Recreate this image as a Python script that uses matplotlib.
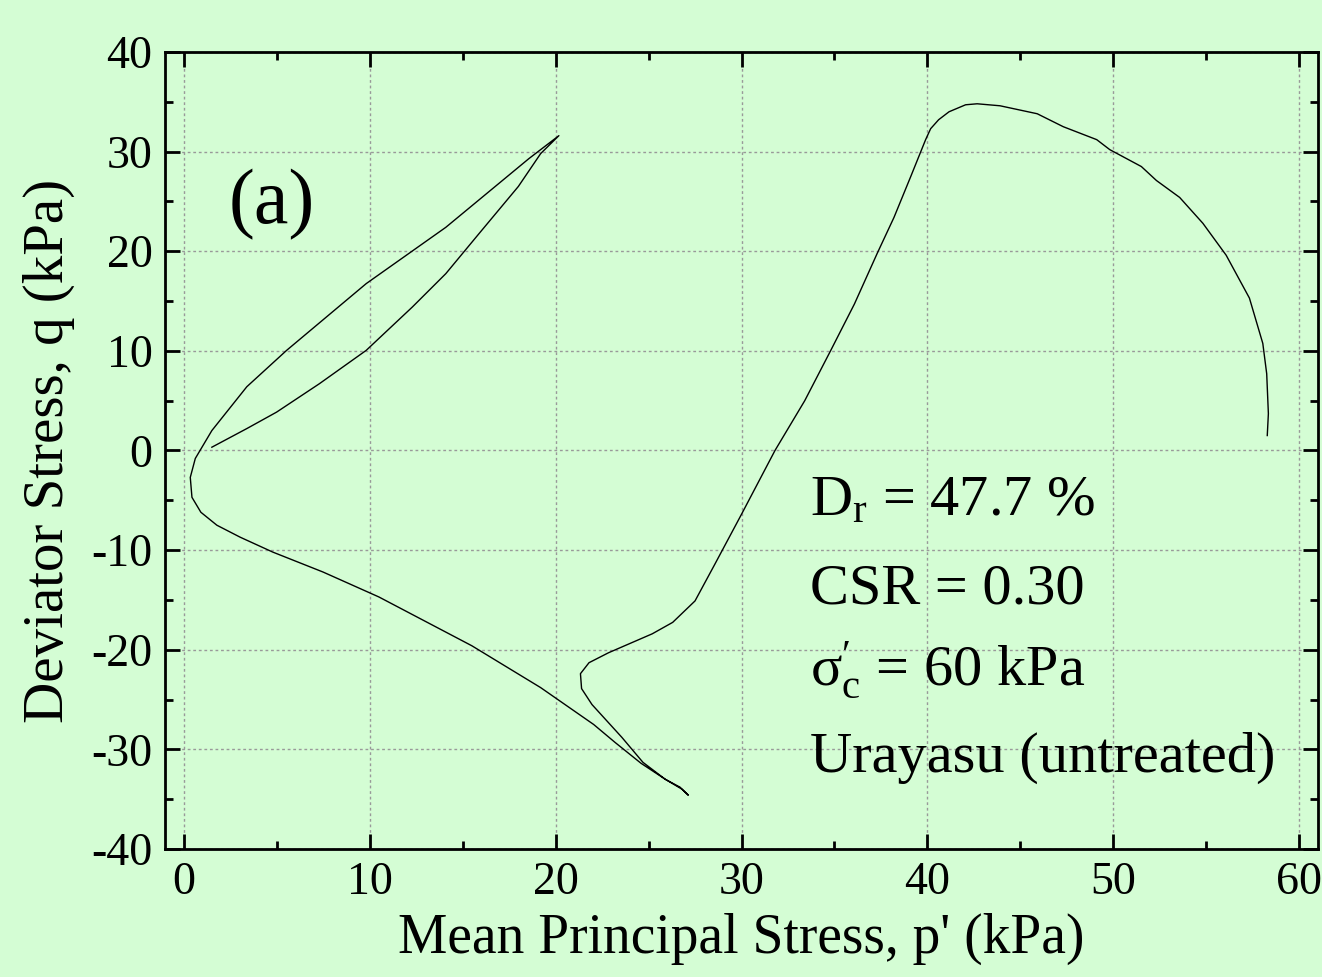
import numpy as np
import matplotlib
matplotlib.use("Agg")
import matplotlib.pyplot as plt

plt.rcParams['font.family'] = ['Liberation Serif', 'DejaVu Serif']
plt.rcParams['mathtext.fontset'] = 'custom'
plt.rcParams['mathtext.rm'] = 'Liberation Serif'
plt.rcParams['mathtext.it'] = 'Liberation Serif:italic'
plt.rcParams['axes.unicode_minus'] = False

# stress path (p', q) in kPa
p_path = [58.27, 58.33, 58.24, 58.03, 57.31, 56.06, 54.81, 53.56, 52.31, 51.5, 49.8, 49.1,
          47.3, 45.9, 43.9, 42.67, 42.05, 41.16, 40.6, 40.17, 39.9, 39.1, 38.2, 37.3,
          36.07, 34.8, 33.4, 31.8, 30.0, 28.57, 27.5, 26.3, 25.2, 22.85, 21.8, 21.34,
          21.4, 21.96, 23.57, 24.7, 25.9, 26.7, 27.14,
          26.8, 25.9, 24.6, 23.2, 22.05, 19.2, 15.5, 10.5, 7.5, 4.8, 3.04, 1.79, 0.93,
          0.45, 0.36, 0.63, 1.52, 3.4, 5.54, 9.82, 14.1, 18.57, 20.18,
          19.2, 18.0, 15.9, 14.1, 12.3, 9.82, 7.3, 5.0, 3.4, 1.52]
q_path = [1.5, 3.7, 7.7, 10.75, 15.3, 19.6, 22.8, 25.4, 27.1, 28.5, 30.2, 31.2,
          32.5, 33.8, 34.6, 34.8, 34.7, 34.0, 33.2, 32.3, 31.2, 27.5, 23.4, 19.8,
          14.7, 10.05, 5.0, 0.0, -6.4, -11.4, -15.1, -17.25, -18.4, -20.3, -21.3, -22.4,
          -23.9, -25.5, -28.8, -31.3, -33.0, -33.8, -34.6,
          -34.0, -33.0, -31.4, -29.3, -27.5, -23.8, -19.6, -14.7, -12.2, -10.2, -8.7, -7.5, -6.2,
          -4.7, -2.7, -0.8, 2.0, 6.4, 10.05, 16.75, 22.4, 29.3, 31.6,
          29.8, 26.5, 21.8, 17.75, 14.4, 10.05, 6.7, 3.85, 2.2, 0.33]

info_lines = [r"D$_{\mathrm{r}}$ = 47.7 %", "CSR = 0.30",
              r"σ$^{\prime}_{\mathrm{c}}$ = 60 kPa", "Urayasu (untreated)"]
info_y = [-6.5, -15.4, -23.6, -32.2]

bg = '#d4fdd4'
fig = plt.figure(figsize=(13.22, 9.77), dpi=100, facecolor=bg)
ax = fig.add_axes([0.1248, 0.131, 0.8722, 0.8158], facecolor=bg)

ax.plot(p_path, q_path, color='black', lw=1.0)

ax.set_xlim(-1, 61)
ax.set_ylim(-40, 40)
ax.set_xticks(np.arange(0, 61, 10))
ax.set_yticks(np.arange(-40, 41, 10))
ax.set_xticks(np.arange(0, 61, 5), minor=True)
ax.set_yticks(np.arange(-40, 41, 5), minor=True)
ax.grid(True, which='major', color='#999999', lw=1.0, linestyle=(0, (2, 2)))
ax.set_axisbelow(True)

ax.tick_params(which='both', direction='in', top=True, right=True, width=2, labelsize=33, pad=9)
ax.tick_params(which='major', length=11)
ax.tick_params(which='minor', length=5.5)
for s in ax.spines.values():
    s.set_linewidth(2)

ax.set_xlabel("Mean Principal Stress, p' (kPa)", fontsize=40, labelpad=6)
ax.set_ylabel("Deviator Stress, q (kPa)", fontsize=41, labelpad=12)

ax.text(2.4, 22.8, "(a)", fontsize=56)
for txt, yy in zip(info_lines, info_y):
    ax.text(33.7, yy, txt, fontsize=42, va='baseline')

fig.savefig("out.png", dpi=100, facecolor=bg)
